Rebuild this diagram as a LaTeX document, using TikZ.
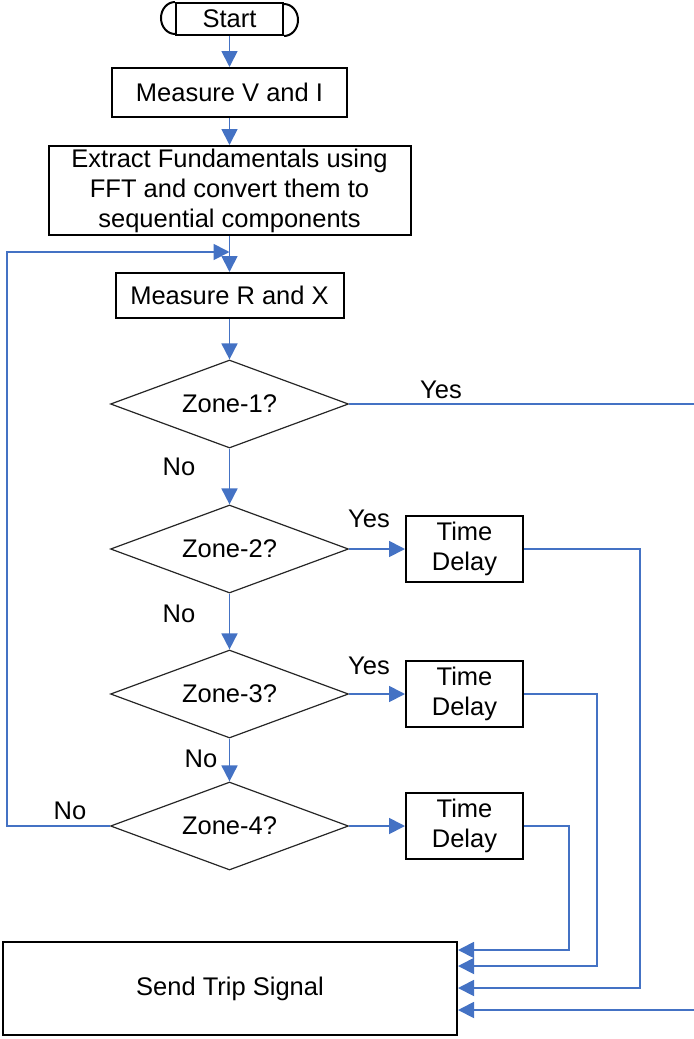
\documentclass[tikz,border=0pt]{standalone}
\usepackage{fontspec}
\setmainfont{Liberation Sans}
\usetikzlibrary{positioning, shapes.geometric, arrows.meta}
\definecolor{flowblue}{RGB}{68,114,196}

\begin{document}
\begin{tikzpicture}[
		    x=0.5pt, y=-0.5pt,
		    every node/.style={font=\fontsize{12.75}{15}\selectfont, align=center, inner sep=0pt},
		    box/.style={draw=black, line width=1pt, rectangle},
		    decision/.style={draw=black!85, line width=0.6pt, diamond, aspect=2.7, minimum width=119pt, minimum height=44pt},
		    flow/.style={draw=flowblue, line width=0.9pt, -{Triangle[length=8pt,width=8pt]}},
		    wire/.style={draw=flowblue, line width=0.9pt}
		]
		    \useasboundingbox (0,0) rectangle (693,1039);

		    % main column
		    \node[box, minimum width=53.5pt, minimum height=16pt] (start) at (229.5,19) {Start};
		    \draw[line width=1pt] (start.north west) arc[start angle=90, end angle=270, x radius=7pt, y radius=8pt];
		    \draw[line width=1pt] (start.south east) arc[start angle=-90, end angle=90, x radius=7pt, y radius=8pt];
		    \node[box, minimum width=117.5pt, minimum height=24.5pt] (measureVI) at (229.5,92.5) {Measure V and I};
		    \node[box, minimum width=181pt, minimum height=44.5pt] (extract) at (229.5,190.5) {Extract Fundamentals using\\FFT and convert them to\\sequential components};
		    \node[box, minimum width=114pt, minimum height=22.5pt] (measureRX) at (229.5,295.5) {Measure R and X};
		    \node[box, minimum width=227pt, minimum height=46.5pt] (trip) at (230,988.5) {Send Trip Signal};

		    \foreach \z/\y in {1/404,2/549,3/694,4/826} {
			\node[decision] (zone\z) at (229.5,\y) {Zone-\z?};
		    }

		    \draw[flow] (start) -- (measureVI);
		    \draw[flow] (measureVI) -- (extract);
		    \draw[flow] (extract) -- (measureRX);
		    \draw[flow] (measureRX) -- (zone1);
		    \draw[flow] (zone1) -- (zone2);
		    \draw[flow] (zone2) -- (zone3);
		    \draw[flow] (zone3) -- (zone4);

		    % delays into the trip box
		    \foreach \z/\y/\x/\t in {2/549/640/988, 3/694/597/966, 4/826/569/950} {
			\node[box, minimum width=58.5pt, minimum height=33pt] (delay\z) at (464.5,\y) {Time\\Delay};
			\coordinate (in\z) at (\x,\t);
			\draw[flow] (zone\z) -- (delay\z);
			\draw[flow] (delay\z.east) -| (in\z) -- (trip.east |- in\z);
		    }

		    % zone-1 goes straight to trip
		    \coordinate (in1) at (697,1010);
		    \draw[flow] (zone1.east) -| (in1) -- (trip.east |- in1);

		    % back to measuring
		    \coordinate (loopin) at (229.5,252);
		    \coordinate (loopcorner) at (7,826);
		    \draw[flow] (zone4.west) -- (loopcorner) |- (loopin);

		    \node (yes1) at (441,390) {Yes};
		    \node (no1) at (179,467) {No};
		    \node (yes2) at (369,519) {Yes};
		    \node (no2) at (179,614) {No};
		    \node (yes3) at (369,666) {Yes};
		    \node (no3) at (201,759) {No};
		    \node (no4) at (70,811) {No};
		\end{tikzpicture}
\end{document}
